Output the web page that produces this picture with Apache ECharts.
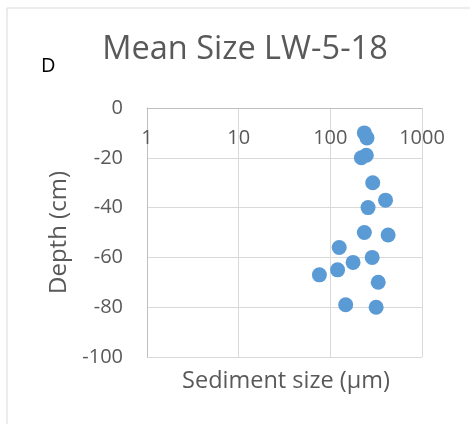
<!DOCTYPE html>
<html><head><meta charset="utf-8">
<script src="https://cdn.jsdelivr.net/npm/echarts@6/dist/echarts.min.js"></script>
<style>html,body{margin:0;padding:0;background:#fff}#c{width:470px;height:424px}</style>
</head><body><div id="c"></div>
<script>
const sizes  = [235, 251, 218, 247, 290, 400, 258, 235, 427, 125, 286, 177, 120, 76, 333, 147, 316];
const depths = [-10, -12, -20, -19, -30, -37, -40, -50, -51, -56, -60, -62, -65, -67, -70, -79, -80];
const titleText = 'Mean Size LW-5-18';
const panelLabel = 'D';
const xName = 'Sediment size (µm)';
const yName = 'Depth (cm)';

const FONT = 'Open Sans';
const chart = echarts.init(document.getElementById('c'), null, {renderer: 'canvas'});
chart.setOption({
  animation: false,
  backgroundColor: '#fff',
  graphic: [{type: 'rect', shape: {x: 7, y: 8, width: 480, height: 440}, style: {fill: 'none', stroke: '#d9d9d9', lineWidth: 1}, silent: true}],
  title: [
    {text: titleText, left: 240, top: 28, textAlign: 'center', textStyle: {fontFamily: FONT, fontSize: 32.5, fontWeight: 'normal', color: '#595959'}},
    {text: panelLabel, left: 36, top: 51, textStyle: {fontFamily: FONT, fontSize: 20, fontWeight: 'normal', color: '#000'}},
    {text: xName, left: 281, top: 364, textAlign: 'center', textStyle: {fontFamily: FONT, fontSize: 23.5, fontWeight: 'normal', color: '#595959'}}
  ],
  grid: {left: 147, top: 108, right: 48, bottom: 67, containLabel: false},
  xAxis: {
    type: 'log', logBase: 10, min: 1, max: 1000, position: 'top',
    axisLine: {show: true, onZero: false, lineStyle: {color: '#bfbfbf'}},
    axisTick: {show: false},
    axisLabel: {inside: true, margin: 20, fontFamily: FONT, fontSize: 20, color: '#595959', formatter: v => String(Math.round(v))},
    splitLine: {show: true, lineStyle: {color: '#d9d9d9', width: 1}},
    minorTick: {show: false}
  },
  yAxis: {
    type: 'value', min: -100, max: 0, interval: 20,
    name: yName, nameLocation: 'middle', nameGap: 75,
    nameTextStyle: {fontFamily: FONT, fontSize: 24, color: '#595959'},
    axisLine: {show: true, lineStyle: {color: '#bfbfbf'}},
    axisTick: {show: false},
    axisLabel: {margin: 24, fontFamily: FONT, fontSize: 20, color: '#595959'},
    splitLine: {show: true, lineStyle: {color: '#d9d9d9', width: 1}}
  },
  series: [{
    type: 'scatter',
    data: sizes.map((s, i) => [s, depths[i]]),
    symbol: 'circle', symbolSize: 15,
    itemStyle: {color: '#5b9bd5', opacity: 1}
  }]
});
</script></body></html>
